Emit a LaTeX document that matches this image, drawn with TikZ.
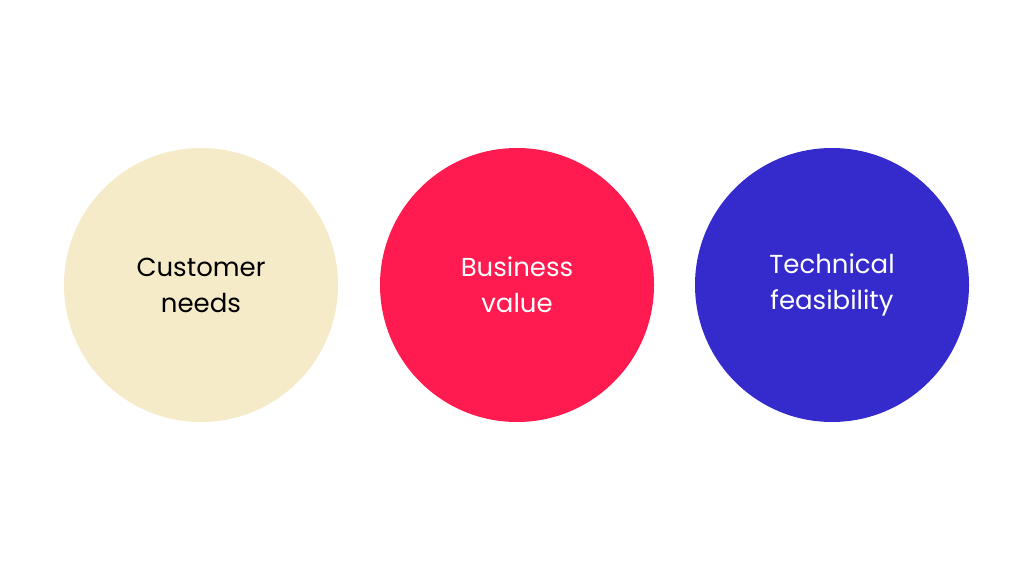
\documentclass[tikz,border=0pt]{standalone}
\usepackage{fontspec}
\setmainfont{Poppins}
\usepackage{tikz}
\definecolor{cream}{HTML}{F5EBC8}
\definecolor{rosered}{HTML}{FF1A4F}
\definecolor{royalblue}{HTML}{352ACB}
\tikzset{
  bubble/.style={circle, minimum size=274pt, inner sep=0pt, align=center,
    font=\fontsize{26}{36}\selectfont}
}
\begin{document}
\begin{tikzpicture}[x=1pt,y=1pt]
\useasboundingbox (0,0) rectangle (1024,576);
\node[bubble, fill=cream, text=black] (needs) at (201,291) {Customer\\needs};
\node[bubble, fill=rosered, text=white] (value) at (517,291) {Business\\value};
\node[bubble, fill=royalblue, text=white] (feasible) at (832,291) {Technical\\feasibility};
\end{tikzpicture}
\end{document}
